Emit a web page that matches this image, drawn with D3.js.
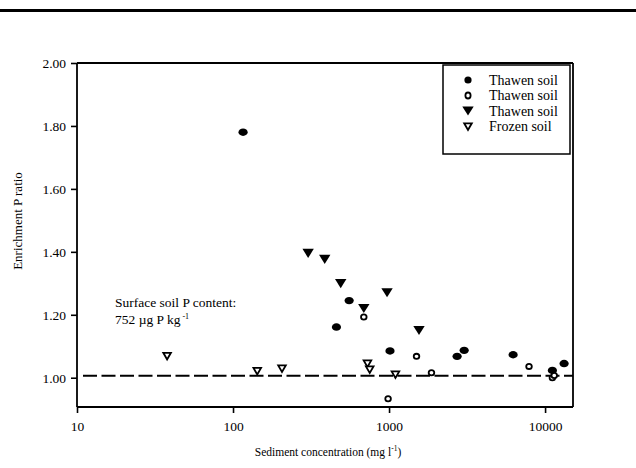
<!DOCTYPE html>
<html>
<head>
<meta charset="utf-8">
<script src="https://cdn.jsdelivr.net/npm/d3@7"></script>
<style>
  body { margin: 0; background: #fff; }
</style>
</head>
<body>
<div id="chart"></div>
<script>
// values
var thawedFilledX = [116, 555, 460, 1014, 2730, 3030, 6240, 11140, 13240];
var thawedFilledY = [1.78, 1.245, 1.161, 1.085, 1.068, 1.087, 1.073, 1.023, 1.045];

var thawedOpenX = [689, 1500, 1870, 986, 7890, 11140, 11450];
var thawedOpenY = [1.193, 1.068, 1.016, 0.933, 1.036, 1.0, 1.007];

var thawedTriX = [303, 387, 490, 971, 689, 1556];
var thawedTriY = [1.395, 1.376, 1.299, 1.270, 1.220, 1.150];

var frozenX = [37.8, 143, 206, 727, 752, 1099];
var frozenY = [1.069, 1.021, 1.029, 1.045, 1.026, 1.010];

var xTicks = [10, 100, 1000, 10000];
var yTicks = [1.0, 1.2, 1.4, 1.6, 1.8, 2.0];
var legendLabels = ["Thawen soil", "Thawen soil", "Thawen soil", "Frozen soil"];
var soilP = 1.006; // dashed reference line

var width = 636, height = 468;
var serif = "'Liberation Serif', 'DejaVu Serif', serif";

var svg = d3.select("#chart").append("svg")
    .attr("width", width)
    .attr("height", height)
    .attr("font-family", serif);

// thick rule across the top of the page
svg.append("rect")
    .attr("x", 0).attr("y", 9)
    .attr("width", width).attr("height", 3)
    .attr("fill", "#000");

var x = d3.scaleLog()
    .domain([10, 15100])
    .range([77, 573]);

var y = d3.scaleLinear()
    .domain([0.907, 2.0])
    .range([407, 63]);

// axes
var yAxis = svg.append("g")
    .attr("transform", "translate(77,0)")
    .call(d3.axisLeft(y).tickValues(yTicks).tickSize(6).tickPadding(5)
        .tickFormat(d3.format(".2f")));

var xAxis = svg.append("g")
    .attr("transform", "translate(0,407)")
    .call(d3.axisBottom(x).tickValues(xTicks).tickSize(6).tickPadding(8)
        .tickFormat(d3.format("d")));

[yAxis, xAxis].forEach(function (g) {
    g.attr("font-family", serif);
    g.select(".domain").remove();
    g.selectAll(".tick line").attr("stroke", "#000").attr("stroke-width", 1.6);
    g.selectAll(".tick text")
        .style("font-family", serif)
        .style("font-size", "13.5px")
        .attr("fill", "#000");
});

// plot frame
var frame = svg.append("g").attr("stroke", "#000").attr("stroke-width", 1.8).attr("fill", "none");
frame.append("line").attr("x1", 77).attr("x2", 77).attr("y1", 63).attr("y2", 407);
frame.append("line").attr("x1", 77).attr("x2", 573).attr("y1", 407).attr("y2", 407);
frame.append("line").attr("x1", 77).attr("x2", 573).attr("y1", 63).attr("y2", 63);
frame.append("line").attr("x1", 573).attr("x2", 573).attr("y1", 63).attr("y2", 407);

// dashed line for surface soil P
svg.append("line")
    .attr("x1", 83).attr("x2", 573)
    .attr("y1", y(soilP)).attr("y2", y(soilP))
    .attr("stroke", "#000")
    .attr("stroke-width", 2)
    .attr("stroke-dasharray", "14,4.5");

// symbol helpers
var triFilled = "M-5.7,-4.6L5.7,-4.6L0,4.6Z";
var triOpen = "M-3.8,-3.2L3.8,-3.2L0,3.4Z";

function zip(xs, ys) {
    return xs.map(function (v, i) { return [v, ys[i]]; });
}

svg.selectAll(".dot-filled")
    .data(zip(thawedFilledX, thawedFilledY))
    .enter().append("ellipse")
    .attr("class", "dot-filled")
    .attr("cx", function (d) { return x(d[0]); })
    .attr("cy", function (d) { return y(d[1]); })
    .attr("rx", 4.6).attr("ry", 3.7)
    .attr("fill", "#000");

svg.selectAll(".dot-open")
    .data(zip(thawedOpenX, thawedOpenY))
    .enter().append("ellipse")
    .attr("class", "dot-open")
    .attr("cx", function (d) { return x(d[0]); })
    .attr("cy", function (d) { return y(d[1]); })
    .attr("rx", 2.8).attr("ry", 2.6)
    .attr("fill", "#fff")
    .attr("stroke", "#000")
    .attr("stroke-width", 1.8);

svg.selectAll(".tri-filled")
    .data(zip(thawedTriX, thawedTriY))
    .enter().append("path")
    .attr("class", "tri-filled")
    .attr("d", triFilled)
    .attr("transform", function (d) { return "translate(" + x(d[0]) + "," + y(d[1]) + ")"; })
    .attr("fill", "#000");

svg.selectAll(".tri-open")
    .data(zip(frozenX, frozenY))
    .enter().append("path")
    .attr("class", "tri-open")
    .attr("d", triOpen)
    .attr("transform", function (d) { return "translate(" + x(d[0]) + "," + y(d[1]) + ")"; })
    .attr("fill", "#fff")
    .attr("stroke", "#000")
    .attr("stroke-width", 1.8);

// legend
var legend = svg.append("g");
legend.append("rect")
    .attr("x", 443).attr("y", 65)
    .attr("width", 127).attr("height", 89)
    .attr("fill", "#fff")
    .attr("stroke", "#000")
    .attr("stroke-width", 1.5);

var rowY = [80, 95.5, 111, 126.5];
var lx = 468;
legend.append("ellipse").attr("cx", lx).attr("cy", rowY[0]).attr("rx", 3.6).attr("ry", 3.6).attr("fill", "#000");
legend.append("ellipse").attr("cx", lx).attr("cy", rowY[1]).attr("rx", 2.6).attr("ry", 3)
    .attr("fill", "#fff").attr("stroke", "#000").attr("stroke-width", 1.8);
legend.append("path").attr("d", triFilled).attr("transform", "translate(" + lx + "," + rowY[2] + ")").attr("fill", "#000");
legend.append("path").attr("d", triOpen).attr("transform", "translate(" + lx + "," + rowY[3] + ")")
    .attr("fill", "#fff").attr("stroke", "#000").attr("stroke-width", 1.8);

legend.selectAll(".leg-text")
    .data(legendLabels)
    .enter().append("text")
    .attr("class", "leg-text")
    .attr("x", 489)
    .attr("y", function (d, i) { return rowY[i] + 4.5; })
    .style("font-family", serif)
    .style("font-size", "14px")
    .text(function (d) { return d; });

// annotation
svg.append("text")
    .attr("x", 115).attr("y", 307)
    .style("font-family", serif)
    .style("font-size", "13.5px")
    .text("Surface soil P content:");
var note = svg.append("text")
    .attr("x", 115).attr("y", 324)
    .style("font-family", serif)
    .style("font-size", "13.5px")
    .text("752 µg P kg");
note.append("tspan")
    .attr("dy", -5).attr("dx", 2)
    .style("font-size", "8px")
    .text("-1");

// axis titles
svg.append("text")
    .attr("transform", "translate(22,221) rotate(-90)")
    .attr("text-anchor", "middle")
    .style("font-family", serif)
    .style("font-size", "13px")
    .text("Enrichment P ratio");

var xt = svg.append("text")
    .attr("x", 328).attr("y", 456)
    .attr("text-anchor", "middle")
    .style("font-family", serif)
    .style("font-size", "11.5px")
    .text("Sediment concentration (mg l");
xt.append("tspan").attr("dy", -5).style("font-size", "7.5px").text("-1");
xt.append("tspan").attr("dy", 5).text(")");
</script>
</body>
</html>
